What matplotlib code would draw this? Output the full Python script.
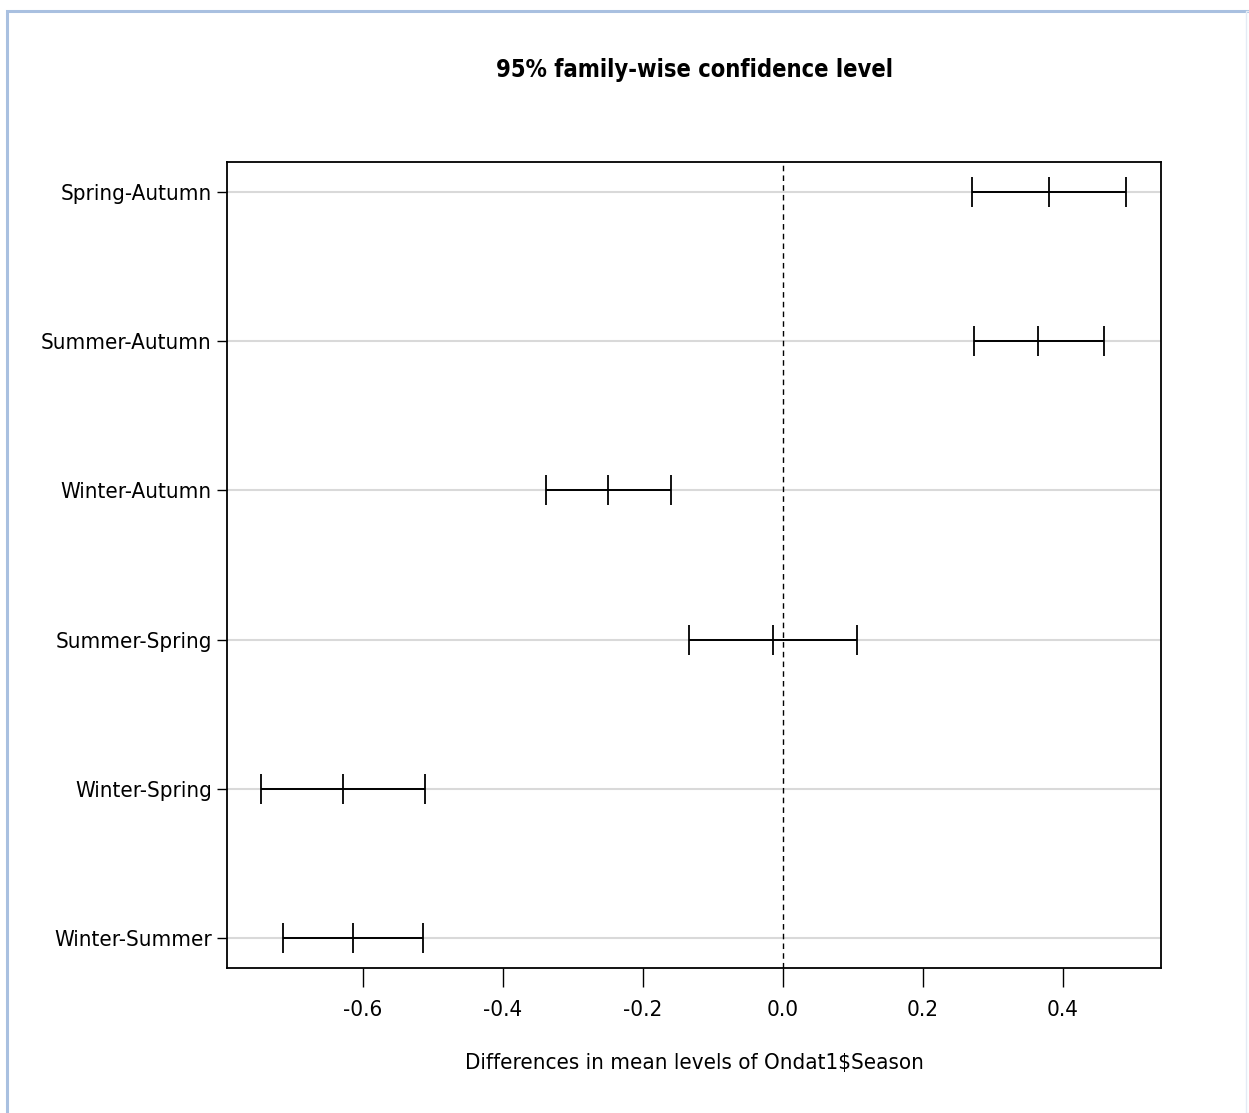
import numpy as np
import matplotlib.pyplot as plt
from matplotlib import font_manager
from matplotlib.patches import Rectangle

### comparisons, top to bottom as drawn
comparisons = ['Spring-Autumn', 'Summer-Autumn', 'Winter-Autumn',
               'Summer-Spring', 'Winter-Spring', 'Winter-Summer']
diff = [0.380, 0.364, -0.250, -0.014, -0.629, -0.614]
lwr = [0.270, 0.273, -0.339, -0.134, -0.746, -0.714]
upr = [0.490, 0.459, -0.160, 0.106, -0.511, -0.514]
xticks = [-0.6, -0.4, -0.2, 0.0, 0.2, 0.4]

### condensed sans face if one is installed (R output uses a squeezed Arial)
narrow = [f.name for f in font_manager.fontManager.ttflist
          if str(f.stretch) == 'condensed' and 'Mono' not in f.name
          and 'CJK' not in f.name]
narrow = sorted(set(narrow), key=lambda s: s != 'DejaVu Sans')
plt.rcParams['font.family'] = narrow[:1] + ['Liberation Sans', 'DejaVu Sans']
stretch = 'condensed' if narrow else 'normal'
tsize = 16 if narrow else 14

W, H = 1249, 1113
fig = plt.figure(figsize=(W / 100, H / 100), dpi=100)
ax = fig.add_axes([227 / W, 1 - 968 / H, (1161 - 227) / W, (968 - 162) / H])

### light blue frame round the picture
fig.patches.append(Rectangle((7 / W, -0.1), 1.2, 1 - 11 / H + 0.1,
                             transform=fig.transFigure, fill=False,
                             edgecolor='#a9c0e0', linewidth=2.2))
fig.patches.append(Rectangle((1246 / W, 0), 0.01, 1 - 11 / H,
                             transform=fig.transFigure, fill=False,
                             edgecolor='#e4ebf5', linewidth=1))

n = len(comparisons)
ypos = np.arange(n, 0, -1)

for y in ypos:
    ax.axhline(y, color='#d9d9d9', linewidth=1.5, zorder=1)
ax.axvline(0, color='black', linestyle=(0, (4, 3)), linewidth=1, zorder=2)

ax.hlines(ypos, lwr, upr, color='black', linewidth=1.4, zorder=3)
for vals in (lwr, diff, upr):
    ax.plot(vals, ypos, linestyle='none', marker='|', markersize=22,
            markeredgewidth=1.3, color='black', zorder=3)

ax.set_xlim(-0.794, 0.540)
ax.set_ylim(0.8, n + 0.2)
ax.set_yticks(ypos)
ax.set_yticklabels(comparisons, fontstretch=stretch)
ax.set_xticks(xticks)
ax.set_xticklabels(['%.1f' % v for v in xticks], fontstretch=stretch)
ax.tick_params(axis='y', length=7, width=1, labelsize=tsize, pad=4)
ax.tick_params(axis='x', length=14, width=1, labelsize=tsize, pad=9)
for s in ax.spines.values():
    s.set_linewidth(1.3)

ax.set_xlabel('Differences in mean levels of Ondat1$Season', fontsize=tsize,
              labelpad=24, fontstretch=stretch)
fig.text(694 / W, 1 - 70 / H, '95% family-wise confidence level',
         ha='center', va='center', fontsize=tsize + 1, fontweight='bold',
         fontstretch=stretch)

fig.savefig('out.png', dpi=100)
